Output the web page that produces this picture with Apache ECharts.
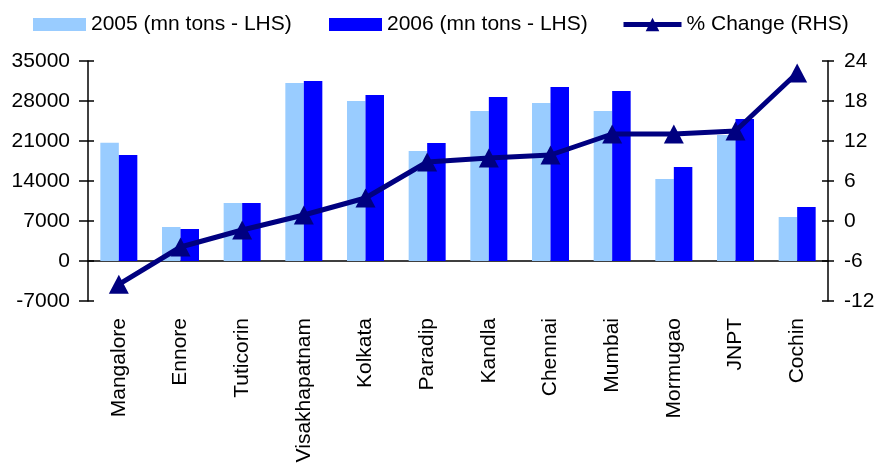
<!DOCTYPE html>
<html>
<head>
<meta charset="utf-8">
<script src="https://cdn.jsdelivr.net/npm/echarts@6/dist/echarts.min.js"></script>
<style>
  html, body { margin: 0; padding: 0; background: #fff; }
  #chart { width: 884px; height: 463px; }
</style>
</head>
<body>
<div id="chart"></div>
<script>
// Port throughput by port, 2005 vs 2006, with year-on-year % change
const ports = ['Mangalore', 'Ennore', 'Tuticorin', 'Visakhapatnam', 'Kolkata', 'Paradip',
               'Kandla', 'Chennai', 'Mumbai', 'Mormugao', 'JNPT', 'Cochin'];
const tons2005 = [20700, 5950, 10150, 31150, 28000, 19250, 26250, 27650, 26250, 14350, 22050, 7700];
const tons2006 = [18550, 5600, 10150, 31500, 29050, 20650, 28700, 30450, 29750, 16450, 24850, 9450];
const pctChange = [-9.5, -3.9, -1.35, 0.9, 3.45, 8.85, 9.45, 9.9, 13.05, 13.05, 13.5, 22.2];

const leftTicks = { min: -7000, max: 35000, interval: 7000 };
const rightTicks = { min: -12, max: 24, interval: 6 };

const FONT = "'Liberation Sans', Arial, sans-serif";
const black = '#000';
const plain = v => String(v);

const chart = echarts.init(document.getElementById('chart'));

const legendText = { color: black, fontSize: 21, fontFamily: FONT };

chart.setOption({
  animation: false,
  backgroundColor: '#fff',
  textStyle: { fontFamily: FONT },
  grid: { left: 88, right: 56, top: 61, bottom: 162, containLabel: false, outerBoundsMode: 'none' },
  legend: [
    { data: [{ name: '2005 (mn tons - LHS)', icon: 'rect' }], left: 28, top: 9, itemWidth: 53, itemHeight: 13, textStyle: legendText },
    { data: [{ name: '2006 (mn tons - LHS)', icon: 'rect' }], left: 324, top: 9, itemWidth: 53, itemHeight: 13, textStyle: legendText },
    { data: ['% Change (RHS)'], left: 616, top: 9, itemWidth: 58, itemHeight: 17, textStyle: legendText,
      lineStyle: { width: 5, color: '#000080' } }
  ],
  xAxis: [
    {
      type: 'category', data: ports, position: 'bottom',
      axisLine: { onZero: true, lineStyle: { color: black, width: 1.5 } },
      axisTick: { length: 8, lineStyle: { color: black, width: 1.5 } },
      axisLabel: { rotate: 90, margin: 17, fontSize: 21, color: black, fontFamily: FONT }
    },
    {
      type: 'category', data: ports, position: 'bottom',
      axisLine: { show: false, onZero: true },
      axisTick: { inside: true, length: 8, lineStyle: { color: black, width: 1.5 } },
      axisLabel: { show: false }
    }
  ],
  yAxis: [
    {
      type: 'value', position: 'left', ...leftTicks,
      axisLine: { show: true, lineStyle: { color: black, width: 1.5 } },
      axisTick: { show: true, length: 9, lineStyle: { color: black, width: 1.5 } },
      axisLabel: { margin: 18, fontSize: 21, color: black, fontFamily: FONT, formatter: plain },
      splitLine: { show: false }
    },
    {
      type: 'value', position: 'right', ...rightTicks,
      axisLine: { show: true, lineStyle: { color: black, width: 1.5 } },
      axisTick: { show: true, length: 6, lineStyle: { color: black, width: 1.5 } },
      axisLabel: { margin: 16, fontSize: 21, color: black, fontFamily: FONT, formatter: plain },
      splitLine: { show: false }
    },
    {
      type: 'value', position: 'left', ...leftTicks,
      axisLine: { show: false },
      axisTick: { show: true, inside: true, length: 6, lineStyle: { color: black, width: 1.5 } },
      axisLabel: { show: false }, splitLine: { show: false }
    },
    {
      type: 'value', position: 'right', ...rightTicks,
      axisLine: { show: false },
      axisTick: { show: true, inside: true, length: 6, lineStyle: { color: black, width: 1.5 } },
      axisLabel: { show: false }, splitLine: { show: false }
    }
  ],
  series: [
    {
      name: '2005 (mn tons - LHS)', type: 'bar', data: tons2005,
      xAxisIndex: 0, yAxisIndex: 0, barWidth: 18.5, barGap: '0%',
      itemStyle: { color: '#99CCFF' }
    },
    {
      name: '2006 (mn tons - LHS)', type: 'bar', data: tons2006,
      xAxisIndex: 0, yAxisIndex: 0, barWidth: 18.5, barGap: '0%',
      itemStyle: { color: '#0000FF' }
    },
    {
      name: '% Change (RHS)', type: 'line', data: pctChange,
      xAxisIndex: 0, yAxisIndex: 1, z: 5,
      lineStyle: { color: '#000080', width: 5 },
      itemStyle: { color: '#000080' },
      symbol: 'triangle', symbolSize: [20, 19]
    }
  ]
});
</script>
</body>
</html>
